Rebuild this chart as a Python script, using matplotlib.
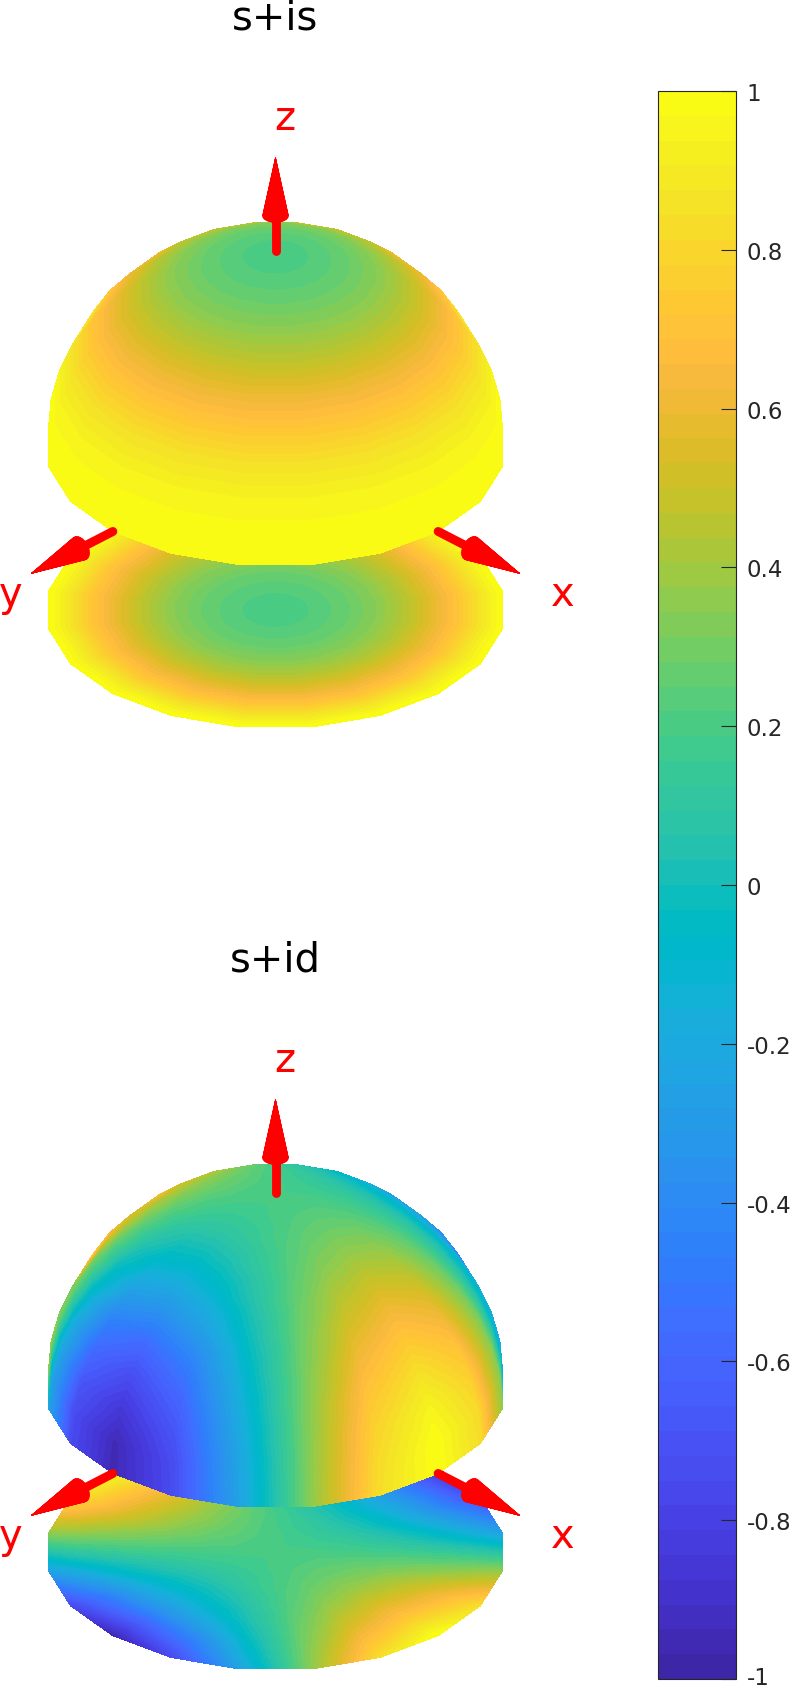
import matplotlib
matplotlib.use("Agg")
import matplotlib.pyplot as plt
import numpy as np
from matplotlib.colors import ListedColormap, Normalize
from matplotlib.cm import ScalarMappable
from matplotlib.transforms import ScaledTranslation
from matplotlib.tri import Triangulation

# parula, 64 steps
parula_rgb = [
    [0.2422, 0.1504, 0.6603], [0.2504, 0.1650, 0.7076], [0.2578, 0.1818, 0.7511], [0.2647, 0.1978, 0.7952],
    [0.2706, 0.2147, 0.8364], [0.2751, 0.2342, 0.8710], [0.2783, 0.2559, 0.8991], [0.2803, 0.2782, 0.9221],
    [0.2813, 0.3006, 0.9414], [0.2810, 0.3228, 0.9579], [0.2795, 0.3447, 0.9717], [0.2760, 0.3667, 0.9829],
    [0.2699, 0.3892, 0.9906], [0.2602, 0.4123, 0.9952], [0.2440, 0.4358, 0.9988], [0.2206, 0.4603, 0.9973],
    [0.1963, 0.4847, 0.9892], [0.1834, 0.5074, 0.9798], [0.1786, 0.5289, 0.9682], [0.1764, 0.5499, 0.9520],
    [0.1687, 0.5703, 0.9359], [0.1540, 0.5902, 0.9218], [0.1460, 0.6091, 0.9079], [0.1380, 0.6276, 0.8973],
    [0.1248, 0.6459, 0.8883], [0.1113, 0.6635, 0.8763], [0.0952, 0.6798, 0.8598], [0.0689, 0.6948, 0.8394],
    [0.0297, 0.7082, 0.8163], [0.0036, 0.7203, 0.7917], [0.0067, 0.7312, 0.7660], [0.0433, 0.7411, 0.7394],
    [0.0964, 0.7500, 0.7120], [0.1408, 0.7584, 0.6842], [0.1717, 0.7670, 0.6554], [0.1938, 0.7758, 0.6251],
    [0.2161, 0.7843, 0.5923], [0.2470, 0.7918, 0.5567], [0.2906, 0.7973, 0.5188], [0.3406, 0.8008, 0.4789],
    [0.3909, 0.8029, 0.4354], [0.4456, 0.8024, 0.3909], [0.5044, 0.7993, 0.3480], [0.5616, 0.7942, 0.3045],
    [0.6174, 0.7876, 0.2612], [0.6720, 0.7793, 0.2227], [0.7242, 0.7698, 0.1910], [0.7738, 0.7598, 0.1646],
    [0.8203, 0.7498, 0.1535], [0.8634, 0.7406, 0.1596], [0.9035, 0.7330, 0.1774], [0.9393, 0.7288, 0.2100],
    [0.9728, 0.7298, 0.2394], [0.9956, 0.7434, 0.2371], [0.9970, 0.7659, 0.2199], [0.9952, 0.7861, 0.1967],
    [0.9892, 0.8136, 0.1885], [0.9786, 0.8386, 0.1766], [0.9676, 0.8639, 0.1643], [0.9610, 0.8890, 0.1537],
    [0.9597, 0.9135, 0.1423], [0.9628, 0.9373, 0.1265], [0.9691, 0.9606, 0.1064], [0.9769, 0.9839, 0.0805],
]

titles = ["s+is", "s+id"]
polar_deg = [0, 9, 18, 27, 36, 45, 54, 63, 72, 81, 90]
azimuth_deg = [0, 18, 36, 54, 72, 90, 108, 126, 144, 162, 180, 198, 216, 234, 252, 270, 288, 306, 324, 342]

# colour value read at each polar ring, no dependence on azimuth
s_is_rings = [0.20, 0.22, 0.27, 0.35, 0.46, 0.59, 0.72, 0.85, 0.94, 0.985, 1.00]

# rows: polar angle, columns: azimuth
s_id_grid = [
    [0.20] * 20,
    [0.219, 0.214, 0.202, 0.188, 0.176, 0.171, 0.176, 0.188, 0.202, 0.214, 0.219, 0.214, 0.202, 0.188, 0.176, 0.171, 0.176, 0.188, 0.202, 0.214],
    [0.282, 0.264, 0.218, 0.162, 0.116, 0.098, 0.116, 0.162, 0.218, 0.264, 0.282, 0.264, 0.218, 0.162, 0.116, 0.098, 0.116, 0.162, 0.218, 0.264],
    [0.375, 0.337, 0.237, 0.113, 0.013, -0.025, 0.013, 0.113, 0.237, 0.337, 0.375, 0.337, 0.237, 0.113, 0.013, -0.025, 0.013, 0.113, 0.237, 0.337],
    [0.495, 0.431, 0.264, 0.056, -0.111, -0.175, -0.111, 0.056, 0.264, 0.431, 0.495, 0.431, 0.264, 0.056, -0.111, -0.175, -0.111, 0.056, 0.264, 0.431],
    [0.62, 0.527, 0.285, -0.015, -0.27, -0.37, -0.27, -0.015, 0.285, 0.527, 0.62, 0.527, 0.285, -0.015, -0.257, -0.35, -0.257, -0.015, 0.285, 0.527],
    [0.745, 0.624, 0.306, -0.086, -0.45, -0.58, -0.45, -0.086, 0.306, 0.624, 0.745, 0.624, 0.306, -0.086, -0.404, -0.525, -0.404, -0.086, 0.306, 0.624],
    [0.86, 0.713, 0.328, -0.148, -0.58, -0.74, -0.58, -0.148, 0.328, 0.713, 0.86, 0.713, 0.328, -0.148, -0.533, -0.68, -0.533, -0.148, 0.328, 0.713],
    [0.948, 0.78, 0.341, -0.201, -0.68, -0.86, -0.68, -0.201, 0.341, 0.78, 0.948, 0.78, 0.341, -0.201, -0.64, -0.82, -0.64, -0.201, 0.341, 0.78],
    [1.00, 0.821, 0.348, -0.238, -0.74, -0.95, -0.74, -0.238, 0.348, 0.821, 1.00, 0.821, 0.348, -0.238, -0.711, -0.93, -0.711, -0.238, 0.348, 0.821],
    [1.00, 0.835, 0.35, -0.25, -0.75, -0.96, -0.75, -0.25, 0.35, 0.835, 1.00, 0.835, 0.35, -0.25, -0.735, -0.95, -0.735, -0.25, 0.35, 0.835],
]

cbar_ticks = [-1, -0.8, -0.6, -0.4, -0.2, 0, 0.2, 0.4, 0.6, 0.8, 1]
cbar_labels = ["-1", "-0.8", "-0.6", "-0.4", "-0.2", "0", "0.2", "0.4", "0.6", "0.8", "1"]

W, H = 792, 1690
RADIUS = 230.0     # px per data unit
CENTER_X = 275.5
CENTER_Y = [448.7, 1390.7]
DISK_Z = -0.84
Z_SCALE = 0.98
VIEW_AZ = np.radians(45)
VIEW_EL = np.radians(31)

parula = ListedColormap(parula_rgb)
levels = np.linspace(-1, 1, 65)


def project(x, y, z):
    # orthographic view, returns screen right and screen up
    u = x * np.sin(VIEW_AZ) - y * np.cos(VIEW_AZ)
    v = z * Z_SCALE * np.cos(VIEW_EL) - (x * np.cos(VIEW_AZ) + y * np.sin(VIEW_AZ)) * np.sin(VIEW_EL)
    return u, v


def mesh_triangles(n_rings, n_az):
    # vertex 0 is the pole, then one row of n_az vertices per ring
    tris = []
    for j in range(n_az):
        tris.append([0, 1 + j, 1 + (j + 1) % n_az])
    for i in range(n_rings - 1):
        for j in range(n_az):
            a = 1 + i * n_az + j
            b = 1 + i * n_az + (j + 1) % n_az
            c = a + n_az
            d = b + n_az
            tris.append([a, c, d])
            tris.append([a, d, b])
    return np.array(tris)


def draw_surface(ax, grid):
    theta = np.radians(polar_deg)
    phi = np.radians(azimuth_deg)
    grid = np.array(grid)
    tris = mesh_triangles(len(theta) - 1, len(phi))
    vals = np.concatenate([[grid[0, 0]], grid[1:].ravel()])

    T, P = np.meshgrid(theta[1:], phi, indexing="ij")
    sx = np.sin(T) * np.cos(P)
    sy = np.sin(T) * np.sin(P)
    sz = np.cos(T)

    # lower part: flattened disk
    dx = np.concatenate([[0], sx.ravel()])
    dy = np.concatenate([[0], sy.ravel()])
    du, dv = project(dx, dy, np.full(dx.shape, DISK_Z))
    ax.tricontourf(Triangulation(du, dv, tris), vals, levels=levels, cmap=parula,
                   vmin=-1, vmax=1, antialiased=False, zorder=1)

    # upper part: dome, only faces turned to the viewer
    zz = np.concatenate([[1], sz.ravel()])
    uu, vv = project(dx, dy, zz)
    a = tris[:, 0]
    b = tris[:, 1]
    c = tris[:, 2]
    area = (uu[b] - uu[a]) * (vv[c] - vv[a]) - (uu[c] - uu[a]) * (vv[b] - vv[a])
    # the winding of the mesh gives one sign for faces that look at the viewer
    tri = Triangulation(uu, vv, tris, mask=area * np.sign(np.median(area[:20])) <= 1e-9)
    ax.tricontourf(tri, vals, levels=levels, cmap=parula,
                   vmin=-1, vmax=1, antialiased=False, zorder=2)


def draw_arrow(ax, axis, start):
    axis = np.array(axis, dtype=float)
    e1 = np.array([axis[1], axis[2], axis[0]])
    e2 = np.cross(axis, e1)
    u0, v0 = project(*(axis * start))
    u1, v1 = project(*(axis * 1.22))
    tip = project(*(axis * 1.5))
    ax.plot([u0, u1], [v0, v1], color="red", lw=6.4, solid_capstyle="round", zorder=5)
    a = np.linspace(0, 2 * np.pi, 25)
    base = [axis * 1.2 + 0.056 * (np.cos(t) * e1 + np.sin(t) * e2) for t in a]
    pu, pv = zip(*[project(*p) for p in base])
    ax.fill(pu, pv, color="red", lw=0, zorder=5)
    for i in range(len(a) - 1):
        ax.fill([tip[0], pu[i], pu[i + 1]], [tip[1], pv[i], pv[i + 1]], color="red", lw=0.5, zorder=5)


fig = plt.figure(figsize=(W / 100, H / 100), dpi=100)

grids = [[[v] * 20 for v in s_is_rings], s_id_grid]
tops = [0, 900]
bottoms = [900, H]
title_y = [18, 961]
for k in range(2):
    ax = fig.add_axes([0, 1 - bottoms[k] / H, 640 / W, (bottoms[k] - tops[k]) / H])
    ax.set_xlim(-CENTER_X / RADIUS, (640 - CENTER_X) / RADIUS)
    ax.set_ylim((CENTER_Y[k] - bottoms[k]) / RADIUS, (CENTER_Y[k] - tops[k]) / RADIUS)
    ax.axis("off")
    ax.patch.set_alpha(0)

    draw_surface(ax, grids[k])
    draw_arrow(ax, [0, 0, 1], 1.02)
    draw_arrow(ax, [1, 0, 0], 1.0)
    draw_arrow(ax, [0, 1, 0], 1.0)

    fig.text(CENTER_X / W, 1 - title_y[k] / H, titles[k], fontsize=28.8, color="black",
             ha="center", va="center")
    # axis letters
    cy = CENTER_Y[k]
    fig.text(285 / W, 1 - (cy - 330) / H, "z", fontsize=28.8, color="red", ha="center", va="center")
    fig.text(11 / W, 1 - (cy + 146) / H, "y", fontsize=28.8, color="red", ha="center", va="center")
    fig.text(563 / W, 1 - (cy + 146) / H, "x", fontsize=28.8, color="red", ha="center", va="center")

cax = fig.add_axes([658 / W, 1 - 1680 / H, 78 / W, 1588 / H])
sm = ScalarMappable(norm=Normalize(-1, 1), cmap=parula)
cb = fig.colorbar(sm, cax=cax)
cb.set_ticks(cbar_ticks)
cb.set_ticklabels(cbar_labels)
cb.ax.tick_params(direction="in", length=11, width=0.8, color="#262626", labelcolor="#262626",
                  labelsize=16.5, pad=7.5)
cb.outline.set_edgecolor("#262626")
cb.outline.set_linewidth(0.8)

# keep the bottom label inside the figure
bottom_label = cb.ax.get_yticklabels()[0]
bottom_label.set_transform(bottom_label.get_transform() + ScaledTranslation(0, 4 / 100, fig.dpi_scale_trans))

fig.savefig("out.png", dpi=100)
